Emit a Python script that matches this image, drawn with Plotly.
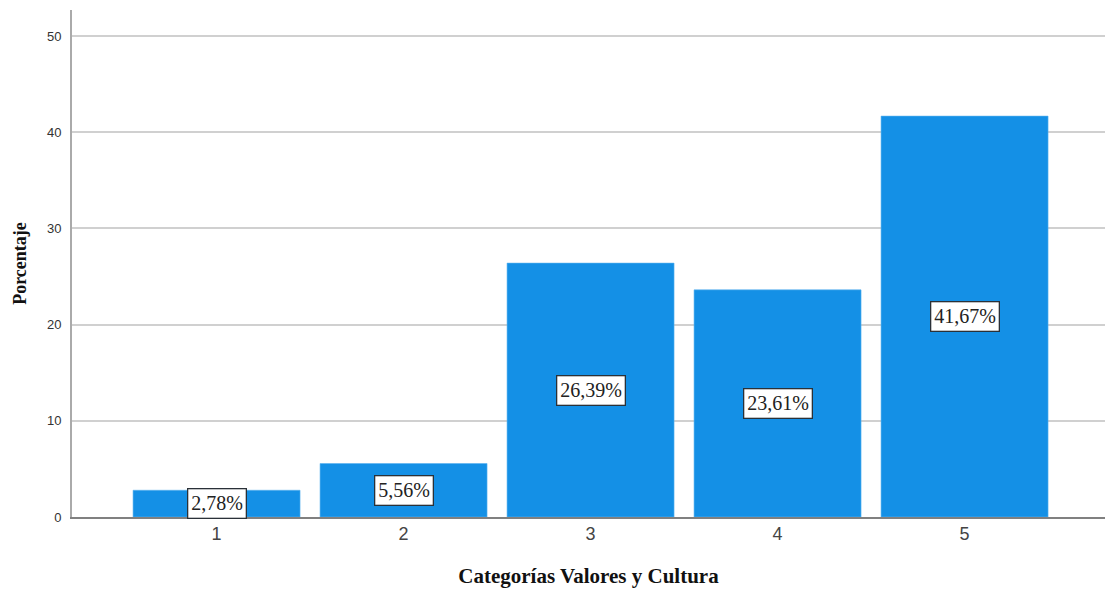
import plotly.graph_objects as go

# Frequency distribution for "Categorías Valores y Cultura"
categorias = [1, 2, 3, 4, 5]
porcentajes = [2.78, 5.56, 26.39, 23.61, 41.67]
etiquetas = ["2,78%", "5,56%", "26,39%", "23,61%", "41,67%"]
ticks_y = [0, 10, 20, 30, 40, 50]

fig = go.Figure()
fig.add_trace(go.Bar(
    x=categorias,
    y=porcentajes,
    width=0.893,
    marker=dict(color="#1490E6", line=dict(color="#5AB2F0", width=0.6)),
    hoverinfo="skip",
))

# Boxed percentage labels centred within each bar
for c, v, t in zip(categorias, porcentajes, etiquetas):
    fig.add_annotation(
        x=c, y=v / 2, text=t, showarrow=False,
        font=dict(family="Liberation Serif", size=20, color="#222222"),
        bgcolor="white", bordercolor="#2a3138", borderwidth=1.3, borderpad=3,
    )

fig.update_layout(
    width=1107, height=589,
    margin=dict(l=72, r=2, t=10, b=72),
    plot_bgcolor="white", paper_bgcolor="white",
    showlegend=False,
    xaxis=dict(
        range=[0.227, 5.751],
        tickvals=categorias,
        ticktext=[str(c) for c in categorias],
        tickfont=dict(family="Liberation Sans", size=18, color="#444444"),
        showgrid=False, zeroline=False,
        showline=True, linecolor="#808080", linewidth=1.5,
        ticks="", ticklen=0,
        title=dict(text="<b>Categorías Valores y Cultura</b>",
                   font=dict(family="Liberation Serif", size=21, color="#111111"),
                   standoff=25),
    ),
    yaxis=dict(
        range=[0, 52.7],
        tickvals=ticks_y,
        tickfont=dict(family="Liberation Sans", size=13, color="#333333"),
        showgrid=True, gridcolor="#D0D0D0", gridwidth=1.5,
        zeroline=False,
        showline=True, linecolor="#AAAAAA", linewidth=2,
        ticks="", ticklabelstandoff=6,
        title=dict(text="<b>Porcentaje</b>",
                   font=dict(family="Liberation Serif", size=18, color="#111111"),
                   standoff=16),
    ),
    bargap=0.1,
)

fig.write_html("out.html")
